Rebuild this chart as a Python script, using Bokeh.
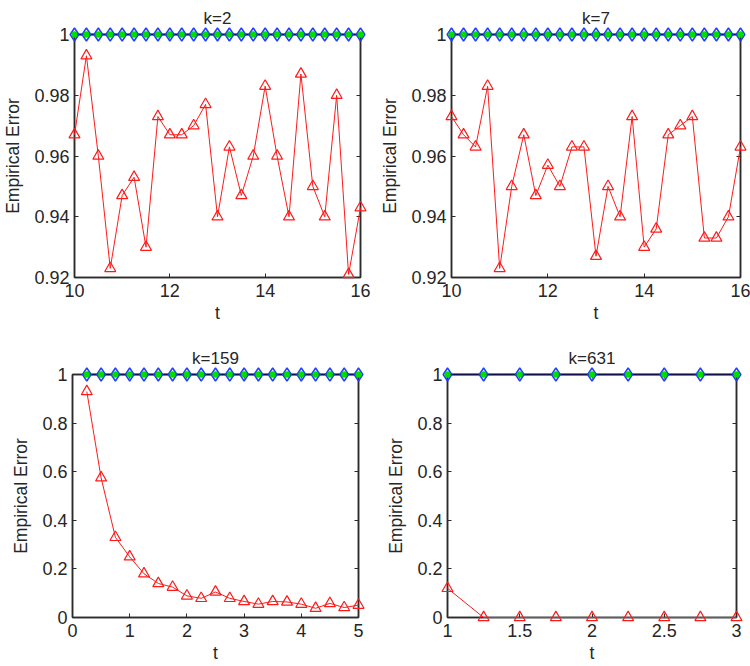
from bokeh.plotting import figure
from bokeh.models import LinearAxis, FixedTicker, Range1d
from bokeh.layouts import column, row
from bokeh.embed import file_html
from bokeh.resources import INLINE

# ---------------- data ----------------
t_top = [10.0, 10.25, 10.5, 10.75, 11.0, 11.25, 11.5, 11.75, 12.0, 12.25, 12.5, 12.75,
         13.0, 13.25, 13.5, 13.75, 14.0, 14.25, 14.5, 14.75, 15.0, 15.25, 15.5, 15.75, 16.0]
err_k2 = [0.967, 0.993, 0.960, 0.923, 0.947, 0.953, 0.930, 0.973, 0.967, 0.967, 0.970, 0.977,
          0.940, 0.963, 0.947, 0.960, 0.983, 0.960, 0.940, 0.987, 0.950, 0.940, 0.980, 0.921, 0.943]
err_k7 = [0.973, 0.967, 0.963, 0.983, 0.923, 0.950, 0.967, 0.947, 0.957, 0.950, 0.963, 0.963,
          0.927, 0.950, 0.940, 0.973, 0.930, 0.936, 0.967, 0.970, 0.973, 0.933, 0.933, 0.940, 0.963]
blue_top = [1, 1, 1, 1, 1, 1, 1, 1, 1, 1, 1, 1, 1, 1, 1, 1, 1, 1, 1, 1, 1, 1, 1, 1, 1]
green_top = [1, 1, 1, 1, 1, 1, 1, 1, 1, 1, 1, 1, 1, 1, 1, 1, 1, 1, 1, 1, 1, 1, 1, 1, 1]

t_k159 = [0.25, 0.5, 0.75, 1.0, 1.25, 1.5, 1.75, 2.0, 2.25, 2.5, 2.75, 3.0, 3.25, 3.5,
          3.75, 4.0, 4.25, 4.5, 4.75, 5.0]
err_k159 = [0.93, 0.575, 0.33, 0.25, 0.18, 0.14, 0.125, 0.089, 0.079, 0.105, 0.079, 0.066,
            0.055, 0.066, 0.064, 0.055, 0.038, 0.058, 0.041, 0.051]
blue_k159 = [1, 1, 1, 1, 1, 1, 1, 1, 1, 1, 1, 1, 1, 1, 1, 1, 1, 1, 1, 1]
green_k159 = [1, 1, 1, 1, 1, 1, 1, 1, 1, 1, 1, 1, 1, 1, 1, 1, 1, 1, 1, 1]

t_k631 = [1.0, 1.25, 1.5, 1.75, 2.0, 2.25, 2.5, 2.75, 3.0]
err_k631 = [0.12, 0, 0, 0, 0, 0, 0, 0, 0]
blue_k631 = [1, 1, 1, 1, 1, 1, 1, 1, 1]
green_k631 = [1, 1, 1, 1, 1, 1, 1, 1, 1]

titles = ["k=2", "k=7", "k=159", "k=631"]
x_ticks_top = [10, 12, 14, 16]
y_ticks_top = [0.92, 0.94, 0.96, 0.98, 1.0]
y_labels_top = ["0.92", "0.94", "0.96", "0.98", "1"]
x_ticks_k159 = [0, 1, 2, 3, 4, 5]
x_ticks_k631 = [1, 1.5, 2, 2.5, 3]
x_labels_k631 = ["1", "1.5", "2", "2.5", "3"]
y_ticks_bot = [0, 0.2, 0.4, 0.6, 0.8, 1.0]
y_labels_bot = ["0", "0.2", "0.4", "0.6", "0.8", "1"]

FONT = "Liberation Sans"
AX = "#2b2b2b"
TXT = "#262626"


def make_panel(title, t, red, blue, green, xr, yr, xt, yt, xl, yl,
               fw, bl, br, bt, bb):
    p = figure(frame_width=fw, frame_height=243,
               x_range=Range1d(*xr), y_range=Range1d(*yr),
               output_backend="svg", toolbar_location=None,
               min_border_left=bl, min_border_right=br,
               min_border_top=bt, min_border_bottom=bb,
               title=title)
    p.title.text_font = FONT
    p.title.text_font_size = "17px"
    p.title.text_font_style = "normal"
    p.title.text_color = TXT
    p.title.align = "center"
    p.title.standoff = 13
    p.xgrid.visible = False
    p.ygrid.visible = False
    p.outline_line_color = AX
    p.outline_line_width = 1.5
    p.background_fill_color = "white"
    p.border_fill_color = "white"

    for ax, ticks, labels in ((p.xaxis[0], xt, xl), (p.yaxis[0], yt, yl)):
        ax.ticker = FixedTicker(ticks=ticks)
        ax.major_label_overrides = {v: s for v, s in zip(ticks, labels)}
        ax.major_tick_in = 4
        ax.major_tick_out = 0
        ax.minor_tick_line_color = None
        ax.axis_line_color = AX
        ax.axis_line_width = 1.5
        ax.major_tick_line_color = AX
        ax.major_label_text_font = FONT
        ax.major_label_text_font_size = "18px"
        ax.major_label_text_color = TXT
        ax.axis_label_text_font = FONT
        ax.axis_label_text_font_size = "17.5px"
        ax.axis_label_text_font_style = "normal"
        ax.axis_label_text_color = TXT
    p.xaxis[0].axis_label = "t"
    p.xaxis[0].major_label_standoff = 6
    p.xaxis[0].axis_label_standoff = 3
    p.yaxis[0].axis_label = "Empirical Error"
    p.yaxis[0].major_label_standoff = 5
    p.yaxis[0].axis_label_standoff = 8

    for loc, ticks in (("above", xt), ("right", yt)):
        ax2 = LinearAxis(ticker=FixedTicker(ticks=ticks),
                         major_tick_in=4, major_tick_out=0,
                         minor_tick_line_color=None,
                         axis_line_color=AX, axis_line_width=1.5,
                         major_tick_line_color=AX,
                         major_label_text_font_size="0px",
                         major_label_standoff=0)
        ax2.major_label_text_alpha = 0
        p.add_layout(ax2, loc)

    r1 = p.line(t, blue, line_color="#10104a", line_width=1.5)
    r2 = p.scatter(t, blue, marker="diamond", size=13, fill_color=None,
                   line_color="#1f3fff", line_width=1.5)
    r3 = p.scatter(t, green, marker="circle", size=6, fill_color="#00e000",
                   line_color="#00c000", line_width=0.5)
    r4 = p.line(t, red, line_color="#ff1a1a", line_width=1)
    r5 = p.scatter(t, red, marker="triangle", size=11, fill_color=None,
                   line_color="#ff1a1a", line_width=1.2)
    for r in (r1, r2, r3, r4, r5):
        r.level = "overlay"
    return p


pA = make_panel(titles[0], t_top, err_k2, blue_top, green_top, (10, 16), (0.92, 1.0),
                x_ticks_top, y_ticks_top, [str(v) for v in x_ticks_top], y_labels_top,
                286, 72, 17, 33, 63)
pB = make_panel(titles[1], t_top, err_k7, blue_top, green_top, (10, 16), (0.92, 1.0),
                x_ticks_top, y_ticks_top, [str(v) for v in x_ticks_top], y_labels_top,
                289, 72, 14, 33, 63)
pC = make_panel(titles[2], t_k159, err_k159, blue_k159, green_k159, (0, 5), (0, 1.0),
                x_ticks_k159, y_ticks_bot, [str(v) for v in x_ticks_k159], y_labels_bot,
                286, 72, 17, 33, 51)
pD = make_panel(titles[3], t_k631, err_k631, blue_k631, green_k631, (1, 3), (0, 1.0),
                x_ticks_k631, y_ticks_bot, x_labels_k631, y_labels_bot,
                289, 72, 14, 33, 51)

layout = column(row(pA, pB), row(pC, pD))

open("out.html", "w").write(file_html(layout, INLINE))
